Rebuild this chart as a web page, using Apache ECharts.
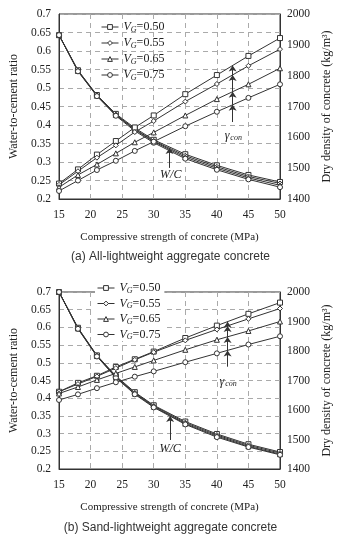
<!DOCTYPE html>
<html>
<head>
<meta charset="utf-8">
<script src="https://cdn.jsdelivr.net/npm/echarts@6/dist/echarts.min.js"></script>
<style>
  html, body { margin: 0; padding: 0; background: #fff; }
  #chart { width: 341px; height: 536px; }
</style>
</head>
<body>
<div id="chart"></div>
<script>
// compressive strength (MPa)
var strength = [15, 18, 21, 24, 27, 30, 35, 40, 45, 50];
var vgNames = ['V_G=0.50', 'V_G=0.55', 'V_G=0.65', 'V_G=0.75'];
var vgSymbols = ['rect', 'diamond', 'triangle', 'circle'];

// (a) all-lightweight: water-to-cement ratio
var wcA50 = [0.643, 0.548, 0.481, 0.430, 0.392, 0.360, 0.321, 0.291, 0.265, 0.246];
var wcA55 = [0.643, 0.547, 0.480, 0.428, 0.389, 0.357, 0.317, 0.287, 0.261, 0.242];
var wcA65 = [0.643, 0.546, 0.479, 0.427, 0.387, 0.355, 0.313, 0.283, 0.257, 0.237];
var wcA75 = [0.643, 0.545, 0.478, 0.425, 0.384, 0.352, 0.309, 0.279, 0.253, 0.232];
// (a) dry density (kg/m3)
var denA50 = [1450, 1496, 1544, 1588, 1632, 1671, 1740, 1802, 1864, 1922];
var denA55 = [1446, 1490, 1534, 1574, 1617, 1653, 1716, 1773, 1832, 1886];
var denA65 = [1438, 1478, 1512, 1548, 1584, 1616, 1671, 1724, 1772, 1824];
var denA75 = [1426, 1460, 1494, 1524, 1556, 1586, 1636, 1683, 1728, 1772];

// (b) sand-lightweight: water-to-cement ratio
var wcB50 = [0.700, 0.599, 0.521, 0.463, 0.417, 0.380, 0.334, 0.299, 0.270, 0.248];
var wcB55 = [0.700, 0.598, 0.520, 0.461, 0.415, 0.378, 0.331, 0.296, 0.267, 0.245];
var wcB65 = [0.700, 0.597, 0.519, 0.459, 0.413, 0.376, 0.328, 0.293, 0.264, 0.242];
var wcB75 = [0.700, 0.596, 0.518, 0.458, 0.411, 0.374, 0.326, 0.290, 0.262, 0.240];
// (b) dry density
var denB50 = [1662, 1692, 1716, 1746, 1772, 1798, 1844, 1886, 1926, 1964];
var denB55 = [1662, 1688, 1714, 1742, 1770, 1796, 1836, 1873, 1909, 1944];
var denB65 = [1656, 1678, 1702, 1724, 1746, 1768, 1804, 1838, 1868, 1900];
var denB75 = [1634, 1653, 1674, 1694, 1713, 1731, 1762, 1792, 1822, 1850];

// arrow annotations (x, from, to on the w/c axis)
var wcArrowA = [32.5, 0.284, 0.338];
var gamArrowA = [42.5, [0.408, 0.4545, 0.49, 0.535, 0.561]];
var wcArrowB = [32.6, 0.282, 0.350];
var gamArrowB = [41.7, [0.489, 0.535, 0.573, 0.604, 0.616]];
var labelsA = [[32.7, 0.266], [42.6, 0.371]];
var labelsB = [[32.6, 0.256], [41.8, 0.445]];

var serif = '"Liberation Serif", "DejaVu Serif", serif';
var ink = '#333';

function pairs(ys) {
  return strength.map(function (x, i) { return [x, ys[i]]; });
}

function arrowLines(x, ys) {
  var out = [];
  for (var i = 0; i < ys.length - 1; i++) {
    out.push([{ coord: [x, ys[i]] }, { coord: [x, ys[i + 1]] }]);
  }
  return out;
}

function makeSeries(grid, wcs, dens, wcArrow, gamArrow, labels) {
  var list = [];
  wcs.forEach(function (d, i) {
    var s = {
      name: vgNames[i], type: 'line', xAxisIndex: grid, yAxisIndex: grid * 2,
      data: pairs(d), symbol: vgSymbols[i], symbolSize: 5,
      itemStyle: { color: '#fff', borderColor: ink, borderWidth: 1 },
      lineStyle: { color: ink, width: 1 }, z: 3
    };
    if (i === 0) {
      s.markLine = {
        silent: true, symbol: ['none', 'arrow'], symbolSize: 6,
        lineStyle: { color: ink, type: 'solid', width: 1 }, label: { show: false },
        data: [[{ coord: [wcArrow[0], wcArrow[1]] }, { coord: [wcArrow[0], wcArrow[2]] }]]
          .concat(arrowLines(gamArrow[0], gamArrow[1]))
      };
      s.markPoint = {
        silent: true, symbol: 'circle', symbolSize: 0,
        label: {
          show: true, position: 'inside', color: '#222',
          fontFamily: serif, fontStyle: 'italic', fontSize: 12,
          rich: {
            g: { fontFamily: serif, fontStyle: 'italic', fontSize: 12, color: '#222' },
            s: { fontFamily: serif, fontStyle: 'italic', fontSize: 8, color: '#222', verticalAlign: 'bottom', padding: [4, 0, 0, 1] }
          }
        },
        data: [
          { coord: labels[0], value: 'W/C', label: { formatter: 'W/C' } },
          { coord: labels[1], value: 'g', label: { formatter: '{g|γ}{s|con}' } }
        ]
      };
    }
    list.push(s);
  });
  dens.forEach(function (d, i) {
    list.push({
      name: vgNames[i], type: 'line', xAxisIndex: grid, yAxisIndex: grid * 2 + 1,
      data: pairs(d), symbol: vgSymbols[i], symbolSize: 5,
      itemStyle: { color: '#fff', borderColor: ink, borderWidth: 1 },
      lineStyle: { color: ink, width: 1 }, z: 3
    });
  });
  return list;
}

function xAx(grid) {
  return {
    type: 'value', gridIndex: grid, min: 15, max: 50, interval: 5,
    name: 'Compressive strength of concrete (MPa)', nameLocation: 'middle', nameGap: 33,
    nameTextStyle: { fontFamily: serif, fontSize: 11, color: '#222' },
    axisLine: { lineStyle: { color: ink } },
    axisTick: { show: false },
    axisLabel: { fontFamily: serif, fontSize: 11.5, color: '#222', margin: 10 },
    splitLine: { lineStyle: { color: '#aaa', type: [5, 4] } }
  };
}

function yLeft(grid) {
  return {
    type: 'value', gridIndex: grid, min: 0.2, max: 0.7, interval: 0.05,
    name: 'Water-to-cement ratio', nameLocation: 'middle', nameGap: 38,
    nameTextStyle: { fontFamily: serif, fontSize: 12, color: '#222' },
    axisLine: { show: true, lineStyle: { color: ink } },
    axisTick: { show: false },
    axisLabel: {
      fontFamily: serif, fontSize: 11.5, color: '#222', margin: 8,
      formatter: function (v) { return +v.toFixed(2) + ''; }
    },
    splitLine: { lineStyle: { color: '#aaa', type: [5, 4] } }
  };
}

function yRight(grid) {
  return {
    type: 'value', gridIndex: grid, position: 'right', min: 1400, max: 2000, interval: 100,
    name: 'Dry density of concrete (kg/m³)', nameLocation: 'middle', nameGap: 41,
    nameTextStyle: { fontFamily: serif, fontSize: 12, color: '#222' },
    axisLine: { show: true, lineStyle: { color: ink } },
    axisTick: { show: false },
    axisLabel: {
      fontFamily: serif, fontSize: 11.5, color: '#222', margin: 7,
      formatter: function (v) { return String(v); }
    },
    splitLine: { show: false }
  };
}

var legendText = {
  fontFamily: serif, fontSize: 12, color: '#222',
  rich: {
    v: { fontFamily: serif, fontStyle: 'italic', fontSize: 12, color: '#222' },
    g: { fontFamily: serif, fontStyle: 'italic', fontSize: 8, color: '#222', verticalAlign: 'bottom', padding: [5, 0, 0, 0] },
    n: { fontFamily: serif, fontSize: 12, color: '#222' }
  }
};
function legendFmt(name) {
  return '{v|V}{g|G}{n|=' + name.split('=')[1] + '}';
}

var captionStyle = { fontFamily: '"Liberation Sans", Arial, sans-serif', fontSize: 12, fontWeight: 'normal', color: '#333' };

var legendBase = {
  data: vgNames, orient: 'vertical', itemWidth: 17, itemHeight: 6,
  formatter: legendFmt, textStyle: legendText, selectedMode: false,
  lineStyle: { width: 1, color: ink }, itemStyle: { borderWidth: 1, borderColor: ink }
};

var option = {
  backgroundColor: '#fff',
  animation: false,
  title: [
    { text: '(a) All-lightweight aggregate concrete', left: 'center', top: 251, padding: 0, textStyle: captionStyle },
    { text: '(b) Sand-lightweight aggregate concrete', left: 'center', top: 522, padding: 0, textStyle: captionStyle }
  ],
  grid: [
    { left: 48, right: 49, top: 14, height: 185, show: true, borderColor: ink, borderWidth: 1 },
    { left: 48, right: 48, top: 292, height: 177, show: true, borderColor: ink, borderWidth: 1 }
  ],
  legend: [
    Object.assign({}, legendBase, { left: 101, top: 21, itemGap: 3.5, padding: 0 }),
    Object.assign({}, legendBase, { left: 95, top: 282, itemGap: 3, padding: [0, 4, 0, 2], backgroundColor: '#fff' })
  ],
  xAxis: [xAx(0), xAx(1)],
  yAxis: [yLeft(0), yRight(0), yLeft(1), yRight(1)],
  series: []
    .concat(makeSeries(0, [wcA50, wcA55, wcA65, wcA75], [denA50, denA55, denA65, denA75], wcArrowA, gamArrowA, labelsA))
    .concat(makeSeries(1, [wcB50, wcB55, wcB65, wcB75], [denB50, denB55, denB65, denB75], wcArrowB, gamArrowB, labelsB))
};

var chart = echarts.init(document.getElementById('chart'), null, { renderer: 'canvas' });
chart.setOption(option);
</script>
</body>
</html>
